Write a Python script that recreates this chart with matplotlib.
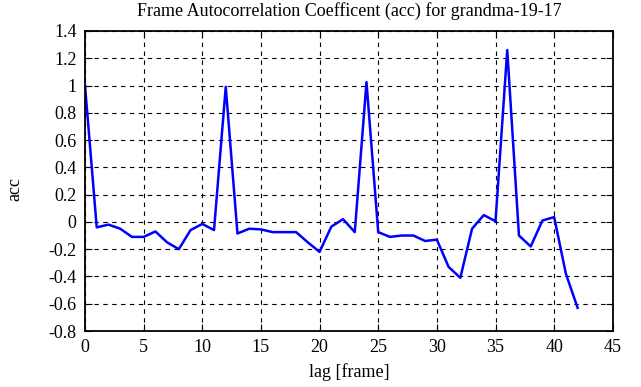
import matplotlib
matplotlib.use("Agg")
import matplotlib.pyplot as plt
import numpy as np

lags = list(range(43))
acc = [1.0, -0.04, -0.02, -0.05, -0.11, -0.11, -0.07, -0.15, -0.20, -0.06,
       -0.015, -0.06, 0.99, -0.085, -0.05, -0.055, -0.075, -0.075, -0.075, -0.15,
       -0.22, -0.035, 0.02, -0.075, 1.025, -0.075, -0.11, -0.10, -0.10, -0.14,
       -0.13, -0.33, -0.41, -0.05, 0.05, 0.005, 1.26, -0.10, -0.18, 0.01,
       0.035, -0.38, -0.63]
xticks = [0, 5, 10, 15, 20, 25, 30, 35, 40, 45]
yticks = [-0.8, -0.6, -0.4, -0.2, 0, 0.2, 0.4, 0.6, 0.8, 1, 1.2, 1.4]
ytick_labels = ["-0.8", "-0.6", "-0.4", "-0.2", "0", "0.2", "0.4", "0.6", "0.8", "1", "1.2", "1.4"]

plt.rcParams['font.family'] = ['Liberation Serif', 'DejaVu Serif']
fig = plt.figure(figsize=(6.41, 3.87), dpi=100)
ax = fig.add_axes([0.1326, 0.1447, 0.956 - 0.1326, 0.92 - 0.1447])
ax.plot(lags, acc, color='#0000ff', lw=1.8)
ax.set_xlim(0, 45)
ax.set_ylim(-0.8, 1.4)
ax.set_xticks(xticks)
ax.set_yticks(yticks)
ax.set_yticklabels(ytick_labels)
ax.grid(True, color='black', linestyle=(0, (4, 4)), linewidth=0.8)
ax.tick_params(direction='in', top=True, right=True, labelsize=13, length=5, pad=6)
for s in ax.spines.values():
    s.set_linewidth(1.3)
ax.set_xlabel('lag [frame]', fontsize=13, labelpad=5)
ax.set_ylabel('acc', fontsize=13, va='center')
ax.yaxis.set_label_coords(-0.133, 0.473)
ax.set_title('Frame Autocorrelation Coefficent (acc) for grandma-19-17', fontsize=13, pad=11)
fig.savefig('out.png', dpi=100)
